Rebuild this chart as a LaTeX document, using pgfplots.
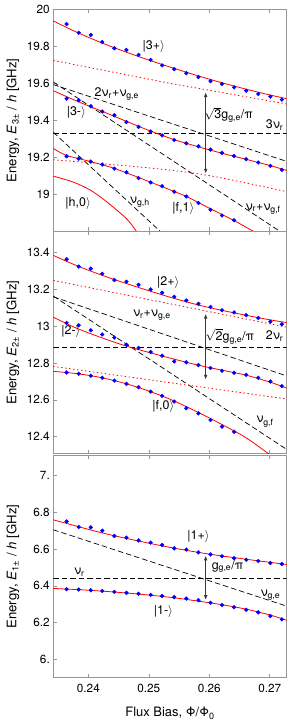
\documentclass[border=0pt]{standalone}
\usepackage{pgfplots}
\pgfplotsset{compat=1.18}
\usepackage{fontspec}
\setmainfont{TeX Gyre Heros}
\usetikzlibrary{arrows.meta}
\definecolor{framegray}{RGB}{150,150,150}
\definecolor{arrowgray}{RGB}{55,55,55}
\newcommand\lab{\fontsize{12.5}{14}\selectfont}
\newcommand\sub[1]{\textsubscript{#1}}
\newcommand\ket[1]{|#1\ensuremath{\rangle}}
\begin{document}
\begin{tikzpicture}
\pgfplotsset{
  panel/.style={
    scale only axis, width=233.4bp, height=221.5bp,
    xmin=0.2342, xmax=0.2728,
    xtick={0.24,0.25,0.26,0.27},
    xtick pos=both, ytick pos=left,
    tick align=inside,
    major tick length=3.5bp,
    axis line style={draw=framegray, line width=0.8bp},
    every tick/.style={draw=framegray, line width=0.6bp},
    tick label style={font=\fontsize{11.8}{13}\selectfont},
    every axis y label/.style={at={(axis description cs:-0.1735,0.5)}, rotate=90, anchor=center, font=\fontsize{13.2}{15}\selectfont},
    every axis x label/.style={at={(axis description cs:0.5,-0.1625)}, anchor=center, font=\fontsize{13}{15}\selectfont},
    xticklabel style={yshift=-3bp},
    clip=true,
  },
  redline/.style={red, line width=0.8bp, smooth},
  reddot/.style={red, line width=0.8bp, dash pattern=on 1.4bp off 2.6bp},
  dline/.style={black, line width=0.7bp, dash pattern=on 5.5bp off 3bp},
  pts/.style={only marks, mark=*, mark size=1.9bp, blue, mark options={draw=blue, fill=blue}},
  dbl/.style={arrowgray, line width=1.1bp, {Latex[length=5bp,width=3.6bp]}-{Latex[length=5bp,width=3.6bp]}},
}
% ================= Panel 1 =================
\begin{axis}[panel, at={(53.3bp,492bp)}, anchor=south west,
  ymin=18.8, ymax=20,
  ytick={19,19.2,19.4,19.6,19.8,20},
  yticklabels={19,19.2,19.4,19.6,19.8,20},
  xticklabels={},
  ylabel={Energy, \textit{E}\sub{3±} / \textit{h} [GHz]}]
\addplot[dline] coordinates {(0.2342,19.329) (0.2728,19.329)};
\addplot[dline] coordinates {(0.2342,19.593) (0.2728,19.177)};
\addplot[dline] coordinates {(0.2342,19.607) (0.2728,18.774)};
\addplot[dline] coordinates {(0.2342,19.335) (0.2528,18.770)};
\addplot[reddot] coordinates {(0.2342,19.724) (0.2535,19.600) (0.2728,19.488)};
\addplot[reddot, smooth] coordinates {(0.2342,19.186) (0.2500,19.142) (0.2600,19.100) (0.2728,19.013)};
\addplot[redline] coordinates {(0.2342,19.938) (0.2380,19.878) (0.2420,19.822) (0.2460,19.772) (0.2500,19.726) (0.2540,19.683) (0.2580,19.642) (0.2620,19.604) (0.2660,19.569) (0.2700,19.537) (0.2728,19.517)};
\addplot[redline] coordinates {(0.2342,19.560) (0.2380,19.505) (0.2420,19.452) (0.2460,19.398) (0.2500,19.345) (0.2540,19.297) (0.2580,19.258) (0.2620,19.222) (0.2660,19.189) (0.2700,19.155) (0.2728,19.128)};
\addplot[red, line width=0.8bp] coordinates {(0.2342,19.247) (0.2353,19.226) (0.2364,19.208) (0.2384,19.192) (0.2404,19.176) (0.2443,19.140) (0.2483,19.090) (0.2522,19.040) (0.2562,18.988) (0.2602,18.920) (0.2641,18.857) (0.2680,18.785)};
\addplot[redline] coordinates {(0.2342,19.097) (0.2375,19.065) (0.2403,19.022) (0.2425,18.972) (0.2447,18.913) (0.2465,18.860) (0.2480,18.796) (0.2490,18.750)};
\addplot[pts] coordinates {(0.2364,19.921) (0.2384,19.874) (0.2404,19.862) (0.2423,19.824) (0.2443,19.790) (0.2463,19.781) (0.2483,19.754) (0.2503,19.727) (0.2522,19.697) (0.2542,19.677) (0.2562,19.655) (0.2582,19.634) (0.2602,19.612) (0.2621,19.596) (0.2641,19.578) (0.2661,19.560) (0.2681,19.542) (0.2701,19.528) (0.2720,19.512)};
\addplot[pts] coordinates {(0.2364,19.517) (0.2384,19.508) (0.2404,19.476) (0.2423,19.447) (0.2443,19.427) (0.2463,19.390) (0.2483,19.364) (0.2503,19.339) (0.2522,19.318) (0.2542,19.293) (0.2562,19.275) (0.2582,19.259) (0.2602,19.241) (0.2621,19.223) (0.2641,19.206) (0.2661,19.189) (0.2681,19.171) (0.2701,19.153) (0.2720,19.131)};
\addplot[pts] coordinates {(0.2364,19.205) (0.2384,19.192) (0.2404,19.176) (0.2423,19.160) (0.2443,19.138) (0.2463,19.118) (0.2483,19.087) (0.2503,19.063) (0.2522,19.043) (0.2542,19.013) (0.2562,18.987) (0.2582,18.952) (0.2602,18.915) (0.2621,18.884) (0.2641,18.858)};
\addplot[dbl] coordinates {(0.2594,19.553) (0.2594,19.110)};
\node[font=\lab] at (axis cs:0.2508,19.800) {\ket{3+}};
\node[font=\lab] at (axis cs:0.2447,19.544) {2ν\sub{r}+ν\sub{g,e}};
\node[font=\lab] at (axis cs:0.2380,19.440) {\ket{3-}};
\node[font=\lab] at (axis cs:0.2632,19.430) {\ensuremath{\sqrt{\mbox{3}}}g\sub{g,e}/π};
\node[font=\lab] at (axis cs:0.2708,19.372) {3ν\sub{r}};
\node[font=\lab] at (axis cs:0.2383,18.950) {\ket{h,0}};
\node[font=\lab] at (axis cs:0.2485,18.955) {ν\sub{g,h}};
\node[font=\lab] at (axis cs:0.2557,18.920) {\ket{f,1}};
\node[font=\lab] at (axis cs:0.2689,18.920) {ν\sub{r}+ν\sub{g,f}};
\end{axis}
% ================= Panel 2 =================
\begin{axis}[panel, at={(53.3bp,269.7bp)}, anchor=south west,
  ymin=12.31, ymax=13.513,
  ytick={12.4,12.6,12.8,13,13.2,13.4},
  yticklabels={12.4,12.6,12.8,13,13.2,13.4},
  xticklabels={},
  ylabel={Energy, \textit{E}\sub{2±} / \textit{h} [GHz]}]
\addplot[dline] coordinates {(0.2342,12.886) (0.2728,12.886)};
\addplot[dline] coordinates {(0.2342,13.160) (0.2728,12.730)};
\addplot[dline] coordinates {(0.2342,13.164) (0.2728,12.331)};
\addplot[reddot] coordinates {(0.2342,13.249) (0.2728,12.995)};
\addplot[reddot] coordinates {(0.2342,12.782) (0.2728,12.605)};
\addplot[redline] coordinates {(0.2342,13.385) (0.2380,13.330) (0.2420,13.280) (0.2460,13.235) (0.2500,13.193) (0.2540,13.153) (0.2580,13.117) (0.2620,13.087) (0.2660,13.060) (0.2700,13.035) (0.2728,13.020)};
\addplot[redline] coordinates {(0.2342,13.049) (0.2380,12.990) (0.2420,12.940) (0.2460,12.895) (0.2500,12.858) (0.2540,12.823) (0.2580,12.790) (0.2620,12.762) (0.2660,12.735) (0.2700,12.697) (0.2728,12.664)};
\addplot[redline] coordinates {(0.2342,12.755) (0.2380,12.743) (0.2420,12.722) (0.2460,12.690) (0.2500,12.648) (0.2540,12.597) (0.2580,12.535) (0.2620,12.468) (0.2660,12.396) (0.2697,12.310) (0.2710,12.280)};
\addplot[pts] coordinates {(0.2364,13.364) (0.2384,13.324) (0.2404,13.313) (0.2423,13.285) (0.2443,13.251) (0.2463,13.242) (0.2483,13.225) (0.2503,13.200) (0.2522,13.182) (0.2542,13.160) (0.2562,13.140) (0.2582,13.122) (0.2602,13.105) (0.2621,13.087) (0.2641,13.075) (0.2661,13.060) (0.2681,13.045) (0.2701,13.025) (0.2720,13.011)};
\addplot[pts] coordinates {(0.2364,13.018) (0.2384,13.005) (0.2404,12.978) (0.2423,12.955) (0.2443,12.938) (0.2463,12.900) (0.2483,12.882) (0.2503,12.860) (0.2522,12.840) (0.2542,12.809) (0.2562,12.804) (0.2582,12.789) (0.2602,12.773) (0.2621,12.758) (0.2641,12.747) (0.2661,12.736) (0.2681,12.720) (0.2701,12.700) (0.2720,12.675)};
\addplot[pts] coordinates {(0.2364,12.749) (0.2384,12.742) (0.2404,12.731) (0.2423,12.720) (0.2443,12.705) (0.2463,12.687) (0.2483,12.669) (0.2503,12.645) (0.2522,12.622) (0.2542,12.591) (0.2562,12.555) (0.2582,12.527) (0.2602,12.491) (0.2621,12.455) (0.2641,12.427)};
\addplot[dbl] coordinates {(0.2594,13.069) (0.2594,12.709)};
\node[font=\lab] at (axis cs:0.2532,13.236) {\ket{2+}};
\node[font=\lab] at (axis cs:0.2505,13.058) {ν\sub{r}+ν\sub{g,e}};
\node[font=\lab] at (axis cs:0.2371,12.973) {\ket{2-}};
\node[font=\lab] at (axis cs:0.2634,12.945) {\ensuremath{\sqrt{\mbox{2}}}g\sub{g,e}/π};
\node[font=\lab] at (axis cs:0.2708,12.945) {2ν\sub{r}};
\node[font=\lab] at (axis cs:0.2524,12.564) {\ket{f,0}};
\node[font=\lab] at (axis cs:0.2692,12.482) {ν\sub{g,f}};
\end{axis}
% ================= Panel 3 =================
\begin{axis}[panel, at={(53.3bp,45.7bp)}, anchor=south west,
  ymin=5.903, ymax=7.107,
  ytick={6,6.2,6.4,6.6,6.8,7},
  yticklabels={6.,6.2,6.4,6.6,6.8,7.},
  xticklabels={0.24,0.25,0.26,0.27},
  xlabel={Flux Bias, Φ/Φ\sub{0}},
  ylabel={Energy, \textit{E}\sub{1±} / \textit{h} [GHz]}]
\addplot[dline] coordinates {(0.2342,6.443) (0.2728,6.443)};
\addplot[dline] coordinates {(0.2342,6.705) (0.2728,6.290)};
\addplot[redline] coordinates {(0.2342,6.759) (0.2380,6.725) (0.2420,6.690) (0.2460,6.660) (0.2500,6.632) (0.2540,6.606) (0.2580,6.583) (0.2620,6.563) (0.2660,6.545) (0.2700,6.528) (0.2728,6.516)};
\addplot[redline] coordinates {(0.2342,6.386) (0.2380,6.380) (0.2420,6.372) (0.2460,6.362) (0.2500,6.350) (0.2540,6.336) (0.2580,6.318) (0.2620,6.298) (0.2660,6.274) (0.2700,6.242) (0.2728,6.213)};
\addplot[pts] coordinates {(0.2364,6.750) (0.2384,6.720) (0.2404,6.718) (0.2423,6.700) (0.2443,6.671) (0.2463,6.662) (0.2483,6.647) (0.2503,6.635) (0.2522,6.622) (0.2542,6.604) (0.2562,6.597) (0.2582,6.582) (0.2602,6.571) (0.2621,6.561) (0.2641,6.550) (0.2661,6.542) (0.2681,6.535) (0.2701,6.524) (0.2720,6.519)};
\addplot[pts] coordinates {(0.2364,6.382) (0.2384,6.380) (0.2404,6.376) (0.2423,6.372) (0.2443,6.367) (0.2463,6.362) (0.2483,6.357) (0.2503,6.351) (0.2522,6.345) (0.2542,6.339) (0.2562,6.331) (0.2582,6.322) (0.2602,6.308) (0.2621,6.296) (0.2641,6.284) (0.2661,6.270) (0.2681,6.256) (0.2701,6.236) (0.2720,6.218)};
\addplot[dbl] coordinates {(0.2594,6.566) (0.2594,6.322)};
\node[font=\lab] at (axis cs:0.2582,6.669) {\ket{1+}};
\node[font=\lab] at (axis cs:0.2385,6.476) {ν\sub{r}};
\node[font=\lab] at (axis cs:0.2630,6.506) {g\sub{g,e}/π};
\node[font=\lab] at (axis cs:0.2701,6.349) {ν\sub{g,e}};
\node[font=\lab] at (axis cs:0.2524,6.259) {\ket{1-}};
\end{axis}
\pgfresetboundingbox
\path[use as bounding box] (0,0) rectangle (290bp,723bp);
\end{tikzpicture}
\end{document}
